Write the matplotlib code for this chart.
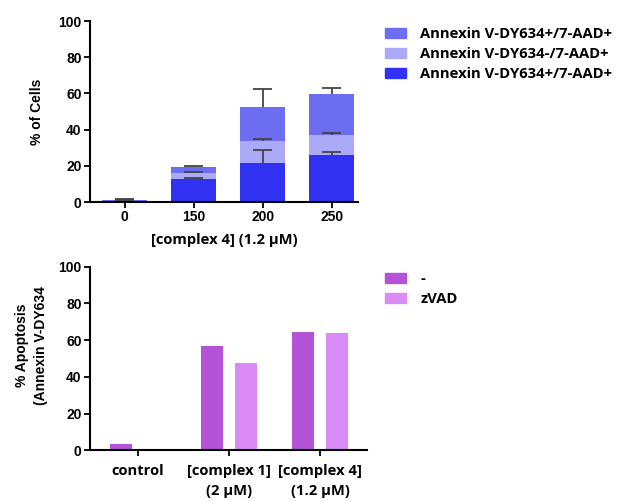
import matplotlib
matplotlib.use('Agg')
import matplotlib.pyplot as plt
import numpy as np
from matplotlib.patches import Patch
from matplotlib.font_manager import FontProperties

# top panel: stacked annexin / 7-AAD populations
doses = ['0', '150', '200', '250']
dark_vals = [0.5, 12.5, 21.5, 25.8]
light_vals = [0.3, 3.7, 12.5, 11.0]
medium_vals = [0.3, 3.3, 18.5, 22.7]
dark_err = [0.5, 0.6, 7.0, 2.0]
light_err = [0.3, 0.2, 1.0, 1.5]
medium_err = [0.4, 0.4, 9.8, 3.7]
top_labels = ['Annexin V-DY634+/7-AAD+', 'Annexin V-DY634-/7-AAD+',
              'Annexin V-DY634+/7-AAD+']

# bottom panel: apoptosis with / without zVAD
groups = ['control', '[complex 1]\n(2 \u03bcM)', '[complex 4]\n(1.2 \u03bcM)']
minus_vals = [3.3, 57.0, 64.3]
zvad_vals = [0.3, 47.7, 63.7]
bottom_labels = ['-', 'zVAD']

C_DARK = '#3131f2'
C_LIGHT = '#aaaaf8'
C_MED = '#6d6df2'
C_MINUS = '#b453d8'
C_ZVAD = '#da8bf5'

TICK_FONT = dict(family='Liberation Sans', weight='bold', size=10)
TEXT_FONT = dict(family='Open Sans', weight='bold', size=10.6)


def style_axis(ax):
    for s in ('top', 'right'):
        ax.spines[s].set_visible(False)
    for s in ('left', 'bottom'):
        ax.spines[s].set_linewidth(1.5)
    ax.tick_params(width=1.3, length=4, pad=2)
    ax.set_ylim(0, 100)
    ax.set_yticks([0, 20, 40, 60, 80, 100])
    for lab in ax.get_yticklabels():
        lab.set_fontproperties(FontProperties(**TICK_FONT))


fig = plt.figure(figsize=(6.19, 5.01), dpi=100)

# ---- top chart
ax1 = fig.add_axes([0.1454, 0.5968, 0.433, 0.361])
x = np.arange(len(doses))
w = 0.65
d = np.array(dark_vals)
l = np.array(light_vals)
m = np.array(medium_vals)
ax1.bar(x, d, w, color=C_DARK, zorder=2)
ax1.bar(x, l, w, bottom=d, color=C_LIGHT, zorder=2)
ax1.bar(x, m, w, bottom=d + l, color=C_MED, zorder=2)
# upper-only error bars with a cap at the top end
cap = 0.14
for tops, err in ((d, dark_err), (d + l, light_err), (d + l + m, medium_err)):
    ends = tops + np.array(err)
    ax1.vlines(x, tops, ends, color='#444444', lw=1.3, zorder=3)
    ax1.hlines(ends, x - cap, x + cap, color='#444444', lw=1.3, zorder=3)
ax1.set_xlim(-0.5, 3.38)
ax1.set_xticks(x)
ax1.set_xticklabels(doses, **TICK_FONT)
style_axis(ax1)
ax1.set_xlabel('[complex 4] (1.2 \u03bcM)', labelpad=6, **TEXT_FONT)
ax1.set_ylabel('% of Cells', **TICK_FONT)
ax1.yaxis.set_label_coords(-0.17, 0.5)

handles1 = [Patch(color=C_MED), Patch(color=C_LIGHT), Patch(color=C_DARK)]
fig.legend(handles1, top_labels, loc='upper left', bbox_to_anchor=(385 / 619, 1 - 27 / 501),
           frameon=False, borderpad=0, borderaxespad=0, handlelength=1.45,
           handleheight=0.7, handletextpad=0.95, labelspacing=0.42,
           prop=FontProperties(**TEXT_FONT))

# ---- bottom chart
ax2 = fig.add_axes([0.1454, 0.1012, 0.4475, 0.3665])
g = np.arange(len(groups))
bw = 0.25
off = 0.187
ax2.bar(g - off, minus_vals, bw, color=C_MINUS, zorder=2)
ax2.bar(g + off, zvad_vals, bw, color=C_ZVAD, zorder=2)
ax2.set_xlim(-0.527, 2.517)
ax2.set_xticks(g)
ax2.set_xticklabels(groups, linespacing=1.5, va='top', **TEXT_FONT)
style_axis(ax2)
ax2.tick_params(axis='x', pad=6)
ax2.set_ylabel('% Apoptosis\n(Annexin V-DY634', linespacing=1.5, **TICK_FONT)
ax2.yaxis.set_label_coords(-0.15, 0.57)

handles2 = [Patch(color=C_MINUS), Patch(color=C_ZVAD)]
fig.legend(handles2, bottom_labels, loc='upper left', bbox_to_anchor=(385 / 619, 1 - 272 / 501),
           frameon=False, borderpad=0, borderaxespad=0, handlelength=1.45,
           handleheight=0.7, handletextpad=0.95, labelspacing=0.42,
           prop=FontProperties(**TEXT_FONT))

fig.savefig('out.png', dpi=100)
